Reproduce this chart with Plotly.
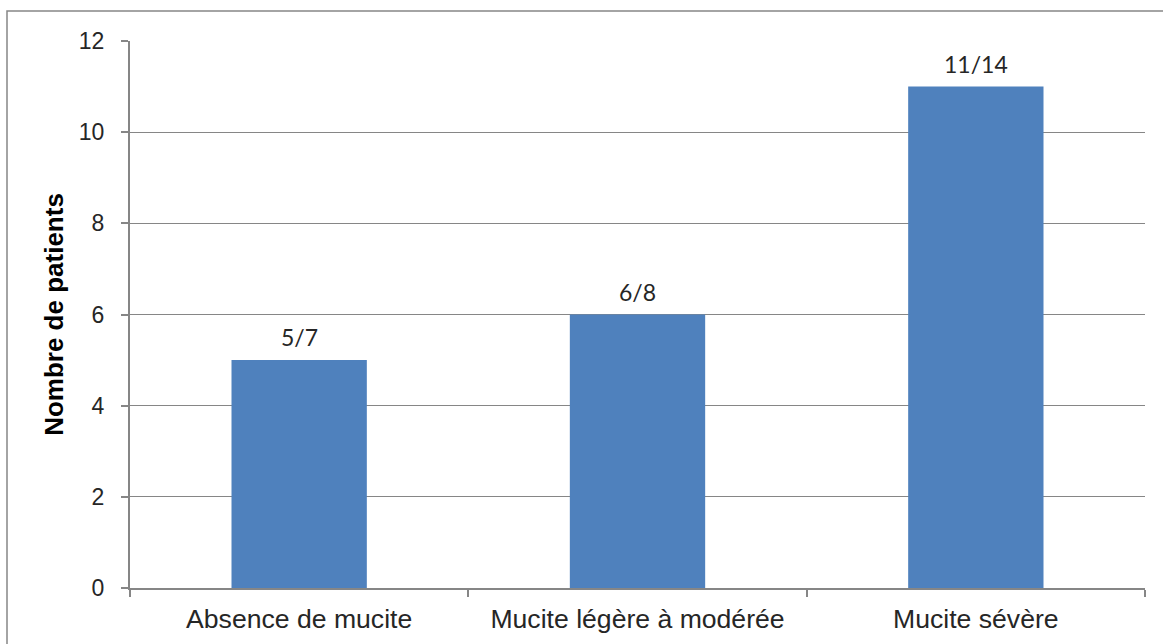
import plotly.graph_objects as go

categories = ["Absence de mucite", "Mucite légère à modérée", "Mucite sévère"]
patients = [5, 6, 11]
labels = ["5/7", "6/8", "11/14"]
y_ticks = [0, 2, 4, 6, 8, 10, 12]

W, H = 1163, 644
L, R, T, B = 130, 18, 41, 56
pw, ph = W - L - R, H - T - B

fig = go.Figure(go.Bar(
    x=categories, y=patients,
    marker=dict(color="#4F81BD", line=dict(width=0)),
    hoverinfo="skip",
))
for c, v, t in zip(categories, patients, labels):
    fig.add_annotation(x=c, y=v, text=t, showarrow=False, yanchor="bottom", yshift=7,
                       font=dict(family="Lato, Carlito, sans-serif", size=23, color="#262626"))

fig.update_layout(
    width=W, height=H,
    margin=dict(l=L, r=R, t=T, b=B),
    plot_bgcolor="white", paper_bgcolor="white",
    bargap=0.6, showlegend=False,
    font=dict(family="Liberation Sans, Arial, sans-serif", color="#262626"),
    shapes=[dict(type="rect", xref="paper", yref="paper",
                 x0=(7 - L) / pw, x1=(W + 20 - L) / pw,
                 y0=-(B + 30) / ph, y1=(H - B - 11) / ph,
                 line=dict(color="#868686", width=1.5), fillcolor="rgba(0,0,0,0)",
                 layer="below")],
)
fig.update_xaxes(
    automargin=False,
    showline=True, linecolor="#868686", linewidth=2,
    ticks="outside", tickson="boundaries", ticklen=7, tickcolor="#868686", tickwidth=2,
    ticklabelstandoff=6,
    tickfont=dict(size=26.6, family="Liberation Sans, Arial, sans-serif", color="#262626"),
    showgrid=False,
)
fig.update_yaxes(
    automargin=False,
    range=[0, 12], tickvals=y_ticks, showline=True, linecolor="#868686", linewidth=2,
    ticks="outside", ticklen=7, tickcolor="#868686", tickwidth=2,
    showgrid=True, gridcolor="#868686", gridwidth=1.3, zeroline=False,
    ticklabelstandoff=12,
    tickfont=dict(size=23, family="Liberation Sans, Arial, sans-serif", color="#262626"),
    title=dict(text="<b>Nombre de patients</b>", font=dict(size=26, family="Liberation Sans, Arial, sans-serif", color="#000000"), standoff=8),
)

fig.write_html("out.html", config={"displayModeBar": False},
               post_script="document.body.style.margin='0';")
